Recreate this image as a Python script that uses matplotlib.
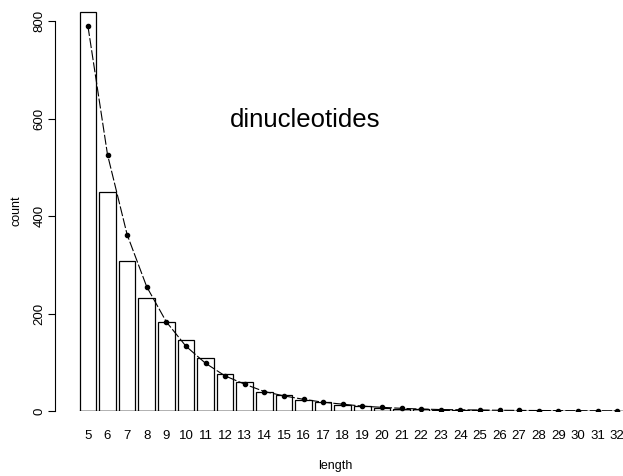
import matplotlib
matplotlib.use('Agg')
import matplotlib.pyplot as plt
import numpy as np

plt.rcParams['font.family'] = ['Liberation Sans', 'DejaVu Sans']

# lengths and observed counts (bars)
lengths = np.arange(5, 33)
counts = [818, 449, 308, 232, 183, 146, 108, 75, 60, 40, 33, 23, 18, 13,
          10, 7, 5, 4, 3, 2, 2, 1, 1, 1, 1, 0.5, 0.5, 0.5]
# fitted / expected counts (dots)
expected = [790, 526, 362, 255, 183, 133, 98, 72, 55, 40, 31, 24, 18, 14,
            10, 7.5, 5.5, 4, 3, 2.5, 2, 1.5, 1.2, 1, 0.8, 0.6, 0.5, 0.4]
y_ticks = [0, 200, 400, 600, 800]

fig = plt.figure(figsize=(6.23, 4.76), dpi=100)
ax = fig.add_axes([55 / 623, 1 - 411 / 476, 568 / 623, 401 / 476])

ax.bar(lengths, counts, width=0.85, color='white', edgecolor='black', linewidth=0.9)
ax.hlines(0, lengths[0] - 0.45, lengths[-1] + 0.45, color='black', linewidth=1)
ax.plot(lengths, expected, color='black', linewidth=0.8, dashes=(9, 2),
        marker='o', markersize=3)

ax.set_xlim(3.32, 32.3)
ax.set_ylim(0, 823)

ax.set_xticks(lengths)
ax.set_xticklabels([str(v) for v in lengths], fontsize=9.5)
ax.tick_params(axis='x', length=0, pad=14)
ax.set_yticks(y_ticks)
ax.set_yticklabels([str(v) for v in y_ticks], rotation=90, va='center', fontsize=9.5)
ax.tick_params(axis='y', length=5, width=0.8, pad=2)

for s in ['top', 'right', 'bottom']:
    ax.spines[s].set_visible(False)
ax.spines['left'].set_bounds(0, 800)
ax.spines['left'].set_linewidth(0.8)

ax.set_xlabel('length', fontsize=9)
ax.xaxis.set_label_coords((335 - 55) / 568, -(460 - 411) / 401)
ax.set_ylabel('count', fontsize=9)
ax.yaxis.set_label_coords(-(55 - 22) / 568, 0.5)

fig.text(305 / 623, 1 - 120 / 476, 'dinucleotides', fontsize=18.5, ha='center', va='center')

fig.savefig('out.png', dpi=100)
